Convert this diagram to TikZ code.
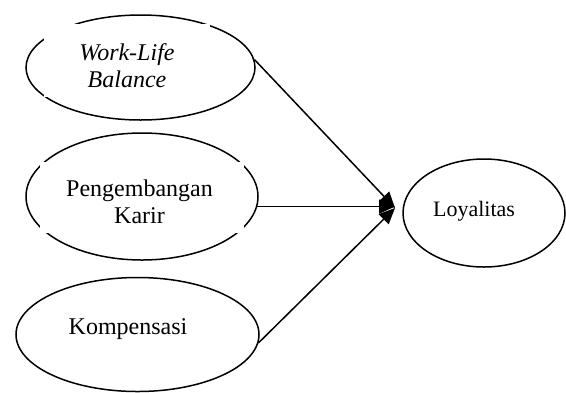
\documentclass[tikz,border=0pt]{standalone}
\usepackage{fontspec}
\setmainfont{Liberation Serif}
\usetikzlibrary{shapes.geometric,arrows.meta}
\begin{document}
\begin{tikzpicture}[x=0.5pt,y=-0.5pt,
  ell/.style={draw=black,line width=0.75pt,ellipse,inner sep=0pt},
  txt/.style={align=center,inner sep=0pt,font=\fontsize{12}{13.5}\selectfont},
  arr/.style={line width=0.75pt,-{Triangle[length=8pt,width=7pt]}}]
\useasboundingbox (0,0) rectangle (566,392);
% ellipses
\node[ell,minimum width=114.5pt,minimum height=52.5pt] (wlb) at (140.5,67.5) {};
\node[ell,minimum width=116pt,minimum height=63.5pt] (pk) at (142,196.5) {};
\node[ell,minimum width=121.5pt,minimum height=57pt] (kom) at (137.5,334.5) {};
\node[ell,minimum width=81pt,minimum height=54pt] (loy) at (484,213) {};
% white text boxes covering parts of the outlines
\fill[white] (44,24) rectangle (210,97);
\fill[white] (40,162) rectangle (244,233);
% texts
\node[txt,font=\fontsize{12}{13.5}\selectfont\itshape] (t1) at (127,66) {Work-Life\\Balance};
\node[txt] (t2) at (139.5,202) {Pengembangan\\Karir};
\node[txt] (t3) at (128,329) {Kompensasi};
\node[txt,font=\fontsize{11}{13}\selectfont] (t4) at (474,211) {Loyalitas};
% arrows
\coordinate (tip) at (395,208);
\coordinate (src2) at (pk.-5.8);
\draw[arr] (wlb.4) -- (tip);
\draw[arr] (src2) -- (src2 -| tip);
\draw[arr] (kom.-4) -- (tip);
\end{tikzpicture}
\end{document}
